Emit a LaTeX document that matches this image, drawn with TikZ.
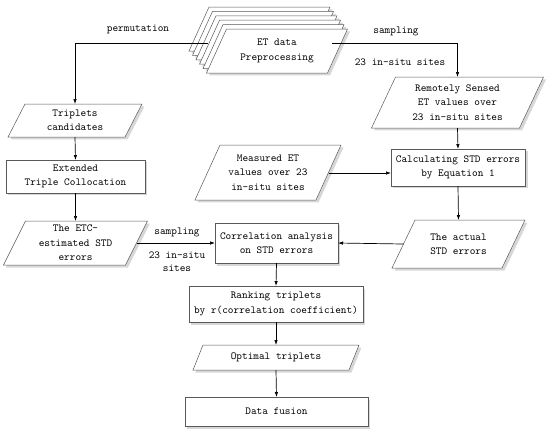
\documentclass[tikz,border=0pt]{standalone}
\usepackage{fontspec}
\usetikzlibrary{arrows.meta,shadows,calc}
\tikzset{
 shp/.style={draw=black!65, line width=0.5pt, fill=white, drop shadow={shadow xshift=2.5pt, shadow yshift=-2.5pt, fill=black!35, opacity=0.45}},
 txt/.style={font=\fontsize{10.8}{14.5}\selectfont\ttfamily, align=center, inner sep=0pt, outer sep=0pt},
 box/.style={shp, txt},
 arr/.style={line width=0.7pt, -{Latex[length=5pt,width=3.5pt]}},
 lbl/.style={font=\fontsize{10.8}{13}\selectfont\ttfamily, align=center, inner sep=0pt}
}
\newcommand{\parapath}[5]{%
 \path[shp] ({#1-#3/2+#5/2},{#2-#4/2}) -- ({#1+#3/2+#5/2},{#2-#4/2}) -- ({#1+#3/2-#5/2},{#2+#4/2}) -- ({#1-#3/2-#5/2},{#2+#4/2}) -- cycle;}
\newcommand{\paranode}[7]{%
 \parapath{#2}{#3}{#4}{#5}{#6}%
 \node[txt, minimum width=#4bp, minimum height=#5bp] (#1) at (#2,#3) {#7};}
\begin{document}
\begin{tikzpicture}[x=1bp,y=-1bp]
\useasboundingbox (0,0) rectangle (550,432);
% stack of ET data
\foreach \k in {5,4,3,2,1}{%
  \pgfmathsetmacro{\cx}{277-3.5*\k}%
  \pgfmathsetmacro{\cy}{51-4.4*\k}%
  \parapath{\cx}{\cy}{121}{44}{20}}
\paranode{et}{277}{51}{121}{44}{20}{ET data\\Preprocessing}
% left column
\paranode{trip}{75}{120.5}{117}{33}{17}{Triplets\\candidates}
\node[box, minimum width=139bp, minimum height=33bp] (ext) at (75.5,176.5) {Extended\\Triple Collocation};
\paranode{etc}{75.5}{243}{122}{44}{22}{The ETC-\\estimated STD\\errors}
% middle
\paranode{meas}{268}{172.5}{121}{55}{25}{Measured ET\\values over 23\\in-situ sites}
\node[box, minimum width=123bp, minimum height=40bp] (corr) at (276.5,243) {Correlation analysis\\on STD errors};
\node[box, minimum width=174bp, minimum height=36bp] (rank) at (276,304) {Ranking triplets\\by r(correlation coefficient)};
\paranode{opt}{276}{357.5}{156}{25}{10}{Optimal triplets}
\node[box, minimum width=183bp, minimum height=29bp] (fus) at (276.5,411.5) {Data fusion};
% right column
\paranode{rem}{457.5}{102.5}{148}{51}{24}{Remotely Sensed\\ET values over\\23 in-situ sites}
\node[box, minimum width=134bp, minimum height=37bp] (calc) at (458,167.5) {Calculating STD errors\\by Equation 1};
\paranode{act}{458.5}{244}{110}{48}{23}{The actual\\STD errors}
% labels
\node[lbl] (lperm) at (138,29) {permutation};
\node[lbl] (lsamp1) at (396,31) {sampling};
\node[lbl] (lsites1) at (400,62) {23 in-situ sites};
\node[lbl] (lsamp2) at (177,232) {sampling};
\node[lbl] (lsites2) at (177,262) {23 in-situ\\sites};
% connectors
\coordinate (pl) at (208,43);
\coordinate (pr) at (332,43);
\coordinate (mr) at ($(meas.east)+(0,0.5)$);
\draw[arr] (pl) -| (trip.north);
\draw[arr] (pr) -| (rem.north);
\draw[arr] (trip.south) -- (ext.north);
\draw[arr] (ext.south) -- (etc.north);
\draw[arr] (etc.east) -- (corr.west);
\draw[arr] (mr) -- (mr -| calc.west);
\draw[arr] (rem.south) -- (calc.north);
\draw[arr] (calc.south) -- (act.north);
\draw[arr] (act.west) -- (corr.east);
\draw[arr] (corr.south) -- (rank.north);
\draw[arr] (rank.south) -- (opt.north);
\draw[arr] (opt.south) -- (fus.north);
\end{tikzpicture}
\end{document}
